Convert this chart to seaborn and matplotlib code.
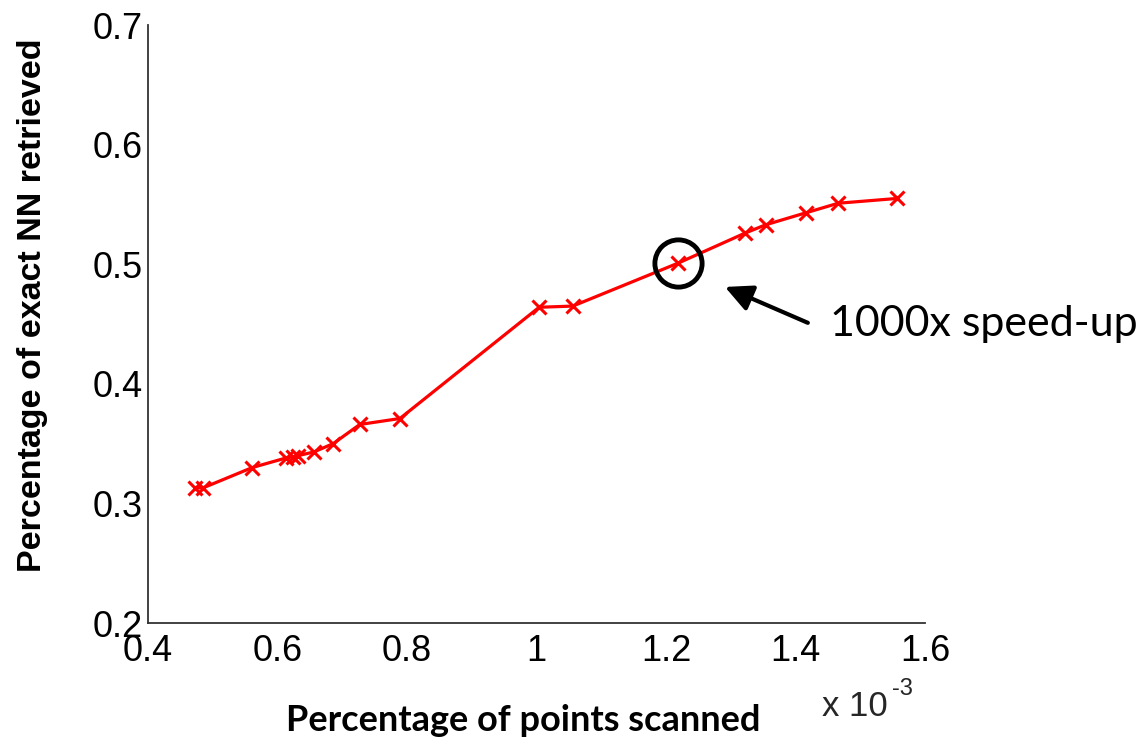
#!/usr/bin/env python
# -*- coding: utf-8 -*-

import matplotlib
matplotlib.use("Agg")
import matplotlib.pyplot as plt
import seaborn as sns

# fraction of points scanned (in units of 1e-3) vs fraction of exact NN found
scanned = [0.473, 0.485, 0.561, 0.613, 0.624, 0.632, 0.656, 0.686, 0.727, 0.789,
           1.004, 1.056, 1.219, 1.322, 1.354, 1.416, 1.466, 1.557]
retrieved = [0.313, 0.313, 0.330, 0.338, 0.339, 0.340, 0.343, 0.350, 0.366, 0.371,
             0.464, 0.465, 0.501, 0.526, 0.533, 0.543, 0.551, 0.555]
highlight = 12  # the point that gets circled

x_ticks = [0.4, 0.6, 0.8, 1.0, 1.2, 1.4, 1.6]
x_ticklabels = ["0.4", "0.6", "0.8", "1", "1.2", "1.4", "1.6"]
y_ticks = [0.2, 0.3, 0.4, 0.5, 0.6, 0.7]
y_ticklabels = ["0.2", "0.3", "0.4", "0.5", "0.6", "0.7"]


def main():
    sns.set_style("white")
    plt.rcParams['font.family'] = ['Liberation Sans', 'DejaVu Sans']

    fig = plt.figure(figsize=(11.44, 7.38), dpi=100)
    ax = fig.add_axes([0.1294, 0.1558, 0.6792, 0.8103])

    sns.lineplot(x=scanned, y=retrieved, ax=ax, color="red", linewidth=2.3,
                 marker="x", markersize=10, markeredgewidth=2.2,
                 markeredgecolor="red")

    # circle around the 1000x point
    ax.plot([scanned[highlight]], [retrieved[highlight]], marker="o",
            markersize=34, markerfacecolor="none", markeredgecolor="black",
            markeredgewidth=3.5, clip_on=False)

    ax.annotate("", xy=(1.291, 0.481), xytext=(1.419, 0.451),
                arrowprops=dict(arrowstyle="-|>,head_length=0.55,head_width=0.27",
                                mutation_scale=30, lw=3, color="black",
                                shrinkA=0, shrinkB=0),
                annotation_clip=False)
    ax.text(1.453, 0.450, "1000x speed-up", fontsize=31, color="black",
            family=["Lato", "DejaVu Sans"], ha="left", va="center", clip_on=False)

    ax.set_xlim(0.4, 1.6)
    ax.set_ylim(0.2, 0.7)
    ax.set_xticks(x_ticks)
    ax.set_xticklabels(x_ticklabels)
    ax.set_yticks(y_ticks)
    ax.set_yticklabels(y_ticklabels)
    ax.tick_params(axis="both", direction="in", length=7, width=1.2,
                   color="#333333", labelsize=26, labelcolor="black")
    ax.tick_params(axis="x", pad=8)
    ax.tick_params(axis="y", pad=4)

    for side in ["top", "right"]:
        ax.spines[side].set_visible(False)
    for side in ["left", "bottom"]:
        ax.spines[side].set_color("#333333")
        ax.spines[side].set_linewidth(1.3)

    ax.set_xlabel("Percentage of points scanned", fontsize=26, fontweight="bold",
                  family=["Lato", "DejaVu Sans"], color="black", va="center")
    ax.xaxis.set_label_coords(0.483, -0.163)
    ax.set_ylabel("Percentage of exact NN retrieved", fontsize=24.5, fontweight="bold",
                  color="black", va="center")
    ax.yaxis.set_label_coords(-0.149, 0.532)

    # MATLAB-style exponent under the x axis
    fig.text(822 / 1144, 1 - 706 / 738, "x 10", fontsize=25, ha="left", va="center")
    fig.text(892 / 1144, 1 - 689 / 738, "-3", fontsize=17, ha="left", va="center")

    fig.savefig("out.png", dpi=100)


if __name__ == '__main__':
    main()
